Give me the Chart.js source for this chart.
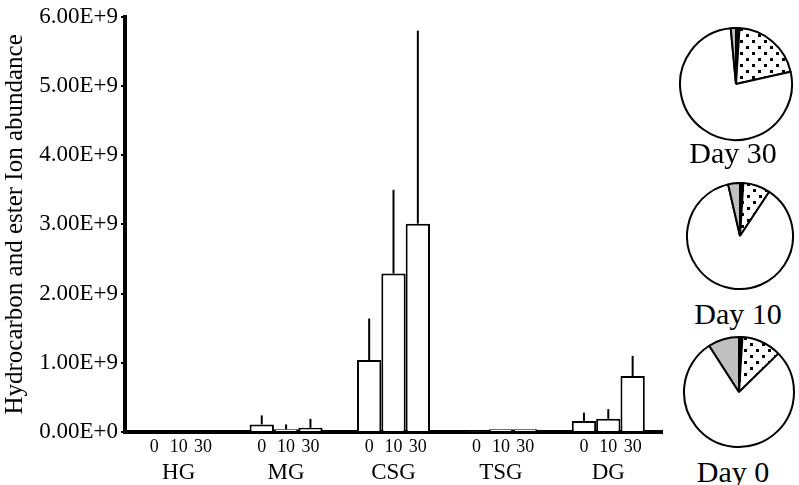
<!DOCTYPE html>
<html>
<head>
<meta charset="utf-8">
<script src="https://cdn.jsdelivr.net/npm/chart.js@4"></script>
<style>
  body { margin: 0; background: #fff; }
  #wrap { position: relative; width: 799px; height: 485px; overflow: hidden; }
  canvas { position: absolute; }
  .day { position: absolute; font-family: "Liberation Serif", serif; font-size: 30px; color: #000; text-align: center; width: 120px; line-height: 30px; }
</style>
</head>
<body>
<div id="wrap">
  <canvas id="bars" width="665" height="485" style="left:0;top:0"></canvas>
  <canvas id="pie30" width="116" height="116" style="left:678px;top:26px"></canvas>
  <canvas id="pie10" width="110" height="110" style="left:685px;top:181px"></canvas>
  <canvas id="pie0" width="114" height="114" style="left:682px;top:335px"></canvas>
  <div class="day" style="left:673px;top:138px">Day 30</div>
  <div class="day" style="left:678px;top:299px">Day 10</div>
  <div class="day" style="left:673px;top:457px">Day 0</div>
</div>
<script>
// gruppernas namn och dagar
const groups = ["HG", "MG", "CSG", "TSG", "DG"];
const days = ["0", "10", "30"];

// staplar (jonmängd)
const day0 = [0, 0.11e9, 1.04e9, 0.01e9, 0.16e9];
const day10 = [0, 0.04e9, 2.29e9, 0.04e9, 0.19e9];
const day30 = [0, 0.06e9, 3.01e9, 0.04e9, 0.81e9];

// övre felstaplar
const err0 = [null, 0.24e9, 1.64e9, null, 0.28e9];
const err10 = [null, 0.11e9, 3.50e9, null, 0.33e9];
const err30 = [null, 0.19e9, 5.80e9, null, 1.10e9];

const yTickLabels = ["0.00E+0", "1.00E+9", "2.00E+9", "3.00E+9", "4.00E+9", "5.00E+9", "6.00E+9"];

// tårtdiagram: svart, prickig, vit, grå
const pieParts = ["black", "dotted", "white", "gray"];
const pieDay30 = [1, 20.5, 77, 1.5];
const pieDay10 = [1, 8.3, 87.1, 3.6];
const pieDay0 = [1, 11.7, 78.2, 9.1];

const serif = "'Liberation Serif', 'Times New Roman', serif";
const values = [day0, day10, day30];
const errors = [err0, err10, err30];

// felstaplar + små etiketter under varje stapel
const extras = {
  id: "extras",
  afterDatasetsDraw(chart) {
    const c = chart.ctx;
    const y = chart.scales.y;
    c.save();
    c.strokeStyle = "#000";
    c.lineWidth = 2;
    values.forEach((_, i) => {
      chart.getDatasetMeta(i).data.forEach((bar, j) => {
        const e = errors[i][j];
        if (e == null) return;
        c.beginPath();
        c.moveTo(bar.x, bar.y);
        c.lineTo(bar.x, y.getPixelForValue(e));
        c.stroke();
      });
    });
    c.fillStyle = "#000";
    c.font = "18px " + serif;
    c.textAlign = "center";
    c.textBaseline = "middle";
    values.forEach((_, i) => {
      chart.getDatasetMeta(i).data.forEach((bar) => {
        c.fillText(days[i], bar.x, chart.chartArea.bottom + 15);
      });
    });
    c.restore();
  },
};

new Chart(document.getElementById("bars"), {
  type: "bar",
  data: {
    labels: groups,
    datasets: values.map((v, i) => ({
      label: "Day " + days[i],
      data: v,
      backgroundColor: "#fff",
      borderColor: "#000",
      borderWidth: 2,
      barPercentage: 1,
      categoryPercentage: 0.68,
    })),
  },
  options: {
    responsive: false,
    animation: false,
    layout: { padding: { top: 11, right: 3 } },
    plugins: { legend: { display: false }, tooltip: { enabled: false } },
    scales: {
      x: {
        grid: { display: false },
        border: { display: true, color: "#000", width: 4 },
        ticks: { color: "#000", font: { family: serif, size: 23 }, padding: 19 },
        afterFit: (s) => { s.height = 53; },
      },
      y: {
        min: 0,
        max: 6e9,
        grid: { display: true, drawOnChartArea: false, color: "#000", lineWidth: 2, tickLength: 4 },
        border: { display: true, color: "#000", width: 4 },
        ticks: {
          stepSize: 1e9,
          color: "#000",
          padding: 3,
          font: { family: serif, size: 23 },
          callback: (v, i) => yTickLabels[i],
        },
        title: {
          display: true,
          text: "Hydrocarbon and ester Ion abundance",
          color: "#000",
          font: { family: serif, size: 25 },
          padding: 0,
        },
        afterFit: (s) => { s.width = 125; },
      },
    },
  },
  plugins: [extras],
});

// prickmönster
const dots = document.createElement("canvas");
dots.width = 12;
dots.height = 12;
const dctx = dots.getContext("2d");
dctx.fillStyle = "#fff";
dctx.fillRect(0, 0, 12, 12);
dctx.fillStyle = "#000";
dctx.fillRect(2, 2, 3, 3);
dctx.fillRect(8, 8, 3, 3);
const dotPattern = dctx.createPattern(dots, "repeat");

const makePie = (id, data) => {
  new Chart(document.getElementById(id), {
    type: "pie",
    data: {
      labels: pieParts,
      datasets: [{
        data: data,
        backgroundColor: ["#000", dotPattern, "#fff", "#c0c0c0"],
        borderColor: "#000",
        borderWidth: 2,
      }],
    },
    options: {
      responsive: false,
      animation: false,
      layout: { padding: 1 },
      plugins: { legend: { display: false }, tooltip: { enabled: false } },
    },
  });
};

makePie("pie30", pieDay30);
makePie("pie10", pieDay10);
makePie("pie0", pieDay0);
</script>
</body>
</html>
